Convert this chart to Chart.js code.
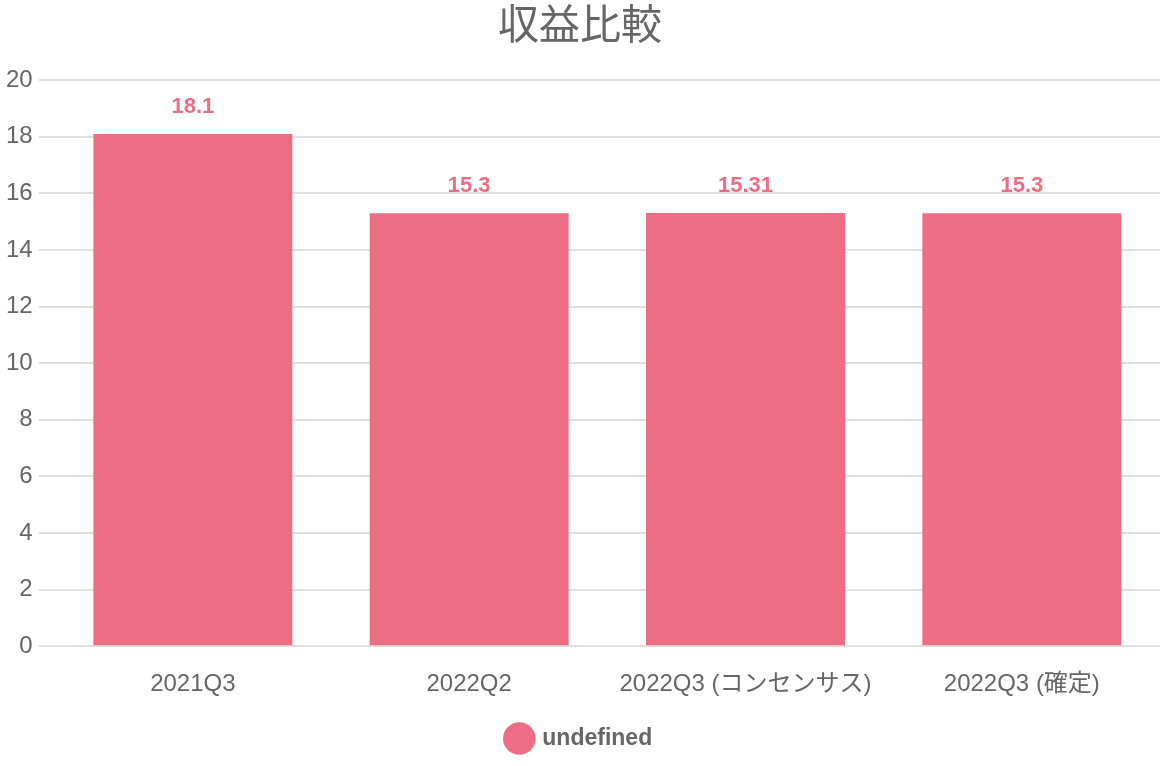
<!DOCTYPE html>
<html>
<head>
<meta charset="utf-8">
<script src="https://cdn.jsdelivr.net/npm/chart.js@4/dist/chart.umd.min.js"></script>
<style>
  html, body { margin: 0; padding: 0; background: #fff; }
  #wrap { width: 1160px; height: 766px; }
</style>
</head>
<body>
<div id="wrap"><canvas id="chart"></canvas></div>
<script>
const categories = ['2021Q3', '2022Q2', '2022Q3 (コンセンサス)', '2022Q3 (確定)'];
const revenue = [18.1, 15.3, 15.31, 15.3];
const barColor = '#ed6d85';

Chart.defaults.font.family = '"Liberation Sans", Arial, "Noto Sans CJK JP", sans-serif';
Chart.defaults.color = '#666';

// value labels above each bar
const valueLabels = {
  id: 'valueLabels',
  afterDatasetsDraw(chart) {
    const ctx = chart.ctx;
    ctx.save();
    ctx.font = 'bold 22px "Liberation Sans", Arial, sans-serif';
    ctx.fillStyle = barColor;
    ctx.textAlign = 'center';
    ctx.textBaseline = 'alphabetic';
    chart.getDatasetMeta(0).data.forEach((bar, i) => {
      ctx.fillText(revenue[i], bar.x, bar.y - 21);
    });
    ctx.restore();
  }
};

new Chart(document.getElementById('chart'), {
  type: 'bar',
  data: {
    labels: categories,
    datasets: [{
      label: 'undefined',
      data: revenue,
      backgroundColor: barColor,
      borderWidth: 0
    }]
  },
  options: {
    responsive: true,
    maintainAspectRatio: false,
    animation: false,
    layout: { padding: { top: 0, right: 0, bottom: 6, left: 0 } },
    plugins: {
      title: {
        display: true,
        text: '収益比較',
        font: { size: 41, weight: 'normal', family: '"Liberation Sans", "Noto Sans CJK JP", sans-serif' },
        color: '#666',
        padding: { top: 3, bottom: 28 }
      },
      legend: {
        position: 'bottom',
        labels: {
          usePointStyle: true,
          pointStyle: 'circle',
          boxWidth: 34,
          boxHeight: 34,
          font: { size: 23, weight: 'bold' },
          padding: 12
        }
      },
      tooltip: { enabled: false }
    },
    scales: {
      x: {
        grid: { display: false },
        border: { display: false },
        ticks: { font: { size: 24 }, padding: 16 }
      },
      y: {
        min: 0,
        max: 20,
        ticks: { stepSize: 2, font: { size: 24 }, padding: 6 },
        grid: { color: '#e0e0e0', lineWidth: 2, tickLength: 16 },
        border: { display: false }
      }
    }
  },
  plugins: [valueLabels]
});
</script>
</body>
</html>
